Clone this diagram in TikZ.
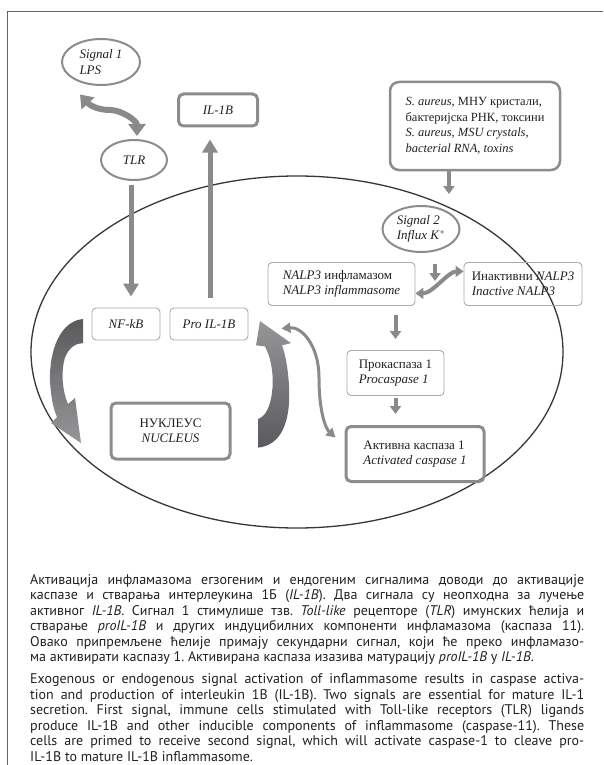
\documentclass[tikz,border=0pt]{standalone}
\usepackage{fontspec}
\setmainfont{Liberation Serif}
\newfontfamily\capfont{PT Sans}
\usetikzlibrary{arrows.meta}
\usetikzlibrary{shapes.geometric}
\usetikzlibrary{positioning}
\definecolor{arrgray}{RGB}{138,138,138}
\definecolor{boxgray}{RGB}{140,140,140}
\definecolor{thingray}{RGB}{170,170,170}
\definecolor{inkgray}{RGB}{35,31,32}
\definecolor{darkarr}{RGB}{90,90,92}
\definecolor{lightarr}{RGB}{150,150,152}
\newcommand{\diafont}{\fontsize{13}{15.5}\selectfont}
\tikzset{
    cellell/.style = {ellipse, draw=inkgray!90, line width=1.3pt, minimum width=532pt, minimum height=352pt, inner sep=0pt},
    sigell/.style = {ellipse, draw=boxgray, line width=2pt, inner sep=0pt, align=left, font=\diafont, text=inkgray},
    thinbox/.style = {draw=thingray, line width=0.9pt, rounded corners=4pt, inner sep=0pt, align=left, font=\diafont, text=inkgray},
    thickbox/.style = {draw=boxgray, line width=3pt, rounded corners=5pt, inner sep=0pt, align=center, font=\diafont, text=inkgray},
    srcbox/.style = {draw=boxgray, line width=2.5pt, rounded corners=9pt, inner sep=0pt, align=left, font=\fontsize{12.5}{15.5}\selectfont, text=inkgray},
    bigarr/.style = {-{Triangle[length=13pt,width=15pt]}, line width=5pt, arrgray},
    smallarr/.style = {-{Triangle[length=8pt,width=11pt]}, line width=4pt, arrgray},
    wavyarr/.style = {{Triangle[length=12pt,width=17pt]}-{Triangle[length=12pt,width=17pt]}, line width=6pt, arrgray},
    linkarr/.style = {{Triangle[length=8pt,width=11pt]}-{Triangle[length=8pt,width=11pt]}, line width=4pt, arrgray},
    thinarr/.style = {{Triangle[length=9pt,width=10pt]}-{Triangle[length=9pt,width=10pt]}, line width=3pt, arrgray},
    captext/.style = {anchor=north west, inner sep=0pt, align=left, text=inkgray, font=\capfont\frenchspacing\fontsize{14}{15.5}\selectfont}
}

\begin{document}
\begin{tikzpicture}[x=1pt,y=-1pt]
\useasboundingbox (0,0) rectangle (603,765);
\draw[inkgray!70, line width=1pt] (7,765) -- (7,11.5) -- (603,11.5);

% cell
\node[cellell] at (297,352) (cell) {};

% outside the cell
\node[sigell, minimum width=78pt, minimum height=46pt] at (101,62) (sigA) {\textit{Signal 1}\\\textit{LPS}};
\node[sigell, minimum width=66pt, minimum height=40pt] at (134,160) (tlr) {\textit{TLR}};
\node[thickbox, minimum width=79pt, minimum height=32pt] at (218,110) (ilb) {\textit{IL-1B}};
\node[srcbox, minimum width=170pt, minimum height=88pt] at (475,126) (src) {\textit{S. aureus}, МНУ кристали,\\бактеријска РНК, токсини\\\textit{S. aureus, MSU crystals,}\\\textit{bacterial RNA, toxins}};
\node[sigell, minimum width=77pt, minimum height=46pt] at (421,229) (sigB) {\textit{Signal 2}\\\textit{Influx K}\textsuperscript{+}};

% inside the cell
\node[thinbox, minimum width=147pt, minimum height=43pt] at (341.5,284) (nalp) {\textit{NALP3} инфламазом\\\textit{NALP3 inflammasome}};
\node[thinbox, minimum width=118pt, minimum height=43pt] at (523,284) (inact) {Инактивни \textit{NALP3}\\\textit{Inactive NALP3}};
\node[thinbox, minimum width=97pt, minimum height=45pt] at (395.5,373) (proc) {Прокаспаза 1\\\textit{Procaspase 1}};
\node[thickbox, align=left, minimum width=138pt, minimum height=55pt] at (415,454) (actc) {Активна каспаза 1\\\textit{Activated caspase 1}};
\node[thinbox, minimum width=68pt, minimum height=32pt] at (126,324) (nfkb) {\textit{NF-kB}};
\node[thinbox, minimum width=78pt, minimum height=32pt] at (209,324) (proil) {\textit{Pro IL-1B}};
\node[thickbox, minimum width=119pt, minimum height=56pt] at (170.5,431) (nuc) {НУКЛЕУС\\\textit{NUCLEUS}};

% connectors
\coordinate (wave) at (110,110);
\draw[wavyarr] ([xshift=-21pt,yshift=-8.5pt]sigA.south) .. controls +(10,11) and +(-12,0) .. (wave) .. controls +(12,0) and +(0,-15) .. ([xshift=3pt,yshift=3pt]tlr.north);
\draw[bigarr, shorten <=4pt, shorten >=11pt] ([xshift=-3pt]tlr.south) -- ([xshift=-3pt]tlr.south |- nfkb.north);
\draw[bigarr, shorten <=10pt, shorten >=12pt] ([xshift=1pt]proil.north) -- ([xshift=1pt]proil.north |- ilb.south);
\draw[smallarr, shorten >=18pt] (src.south -| sigB.north east) -- (sigB.north east);
\draw[smallarr] ([xshift=14pt,yshift=-11pt]sigB.south) -- ([xshift=14pt,yshift=-28pt]sigB.south);
\draw[linkarr] ([yshift=-9.4pt]nalp.east) .. controls +(17,0) and +(-15,0) .. ([yshift=12.6pt]inact.west);
\draw[smallarr, shorten <=9pt, shorten >=11pt] (nalp.south -| proc.north) -- (proc.north);
\draw[smallarr, shorten <=2pt, shorten >=11pt] (proc.south) -- (proc.south |- actc.north);
\coordinate (bend) at (319,378);
\draw[thinarr] ([xshift=33pt,yshift=-21pt]proil.north east) .. controls +(20,-2) and +(0,-33) .. (bend) .. controls +(0,33) and +(-10,-9) .. ([xshift=-9pt,yshift=16.5pt]actc.west);

% big curved arrows
\shade[top color=darkarr, bottom color=lightarr] (83,319) .. controls (60,321) and (49,351) .. (50,381.6) .. controls (51,397) and (53,408) .. (57,417) -- (51,423) -- (81,443) -- (75,398) -- (68,404) .. controls (62,390.4) and (61,370.6) .. (65,357.4) .. controls (69,347.5) and (76,343.1) .. (83,343.1) -- cycle;
\shade[top color=lightarr, bottom color=darkarr] (258,447.6) .. controls (281,445.4) and (291,422.3) .. (289,386) .. controls (288,367.3) and (285,353) .. (282,345.3) -- (291,343.1) -- (260,321.1) -- (256,345.3) -- (265,346.4) .. controls (272,359.6) and (274,378.3) .. (272,392.6) .. controls (270,408) and (265,416.8) .. (258,419) -- cycle;

% caption
\node[captext] at (30,574) (capsr) {%
\makebox[554pt][s]{Активација инфламазома егзогеним и ендогеним сигналима доводи до активације}\\
\makebox[554pt][s]{каспазе и стварања интерлеукина 1Б (\textit{IL-1B}). Два сигнала су неопходна за лучење}\\
\makebox[554pt][s]{активног \textit{IL-1B}. Сигнал 1 стимулише тзв. \textit{Toll-like} рецепторе (\textit{TLR}) имунских ћелија и}\\
\makebox[554pt][s]{стварање \textit{proIL-1B} и других индуцибилних компоненти инфламазома (каспаза 11).}\\
\makebox[554pt][s]{Овако припремљене ћелије примају секундарни сигнал, који ће преко инфламазо-}\\
ма активирати каспазу 1. Активирана каспаза изазива матурацију \textit{proIL-1B} у \textit{IL-1B}.};
\node[captext] at (30,673.5) (capen) {%
\makebox[554pt][s]{Exogenous or endogenous signal activation of inflammasome results in caspase activa-}\\
\makebox[554pt][s]{tion and production of interleukin 1B (IL-1B). Two signals are essential for mature IL-1}\\
\makebox[554pt][s]{secretion. First signal, immune cells stimulated with Toll-like receptors (TLR) ligands}\\
\makebox[554pt][s]{produce IL-1B and other inducible components of inflammasome (caspase-11). These}\\
\makebox[554pt][s]{cells are primed to receive second signal, which will activate caspase-1 to cleave pro-}\\
IL-1B to mature IL-1B inflammasome.};

\end{tikzpicture}
\end{document}
